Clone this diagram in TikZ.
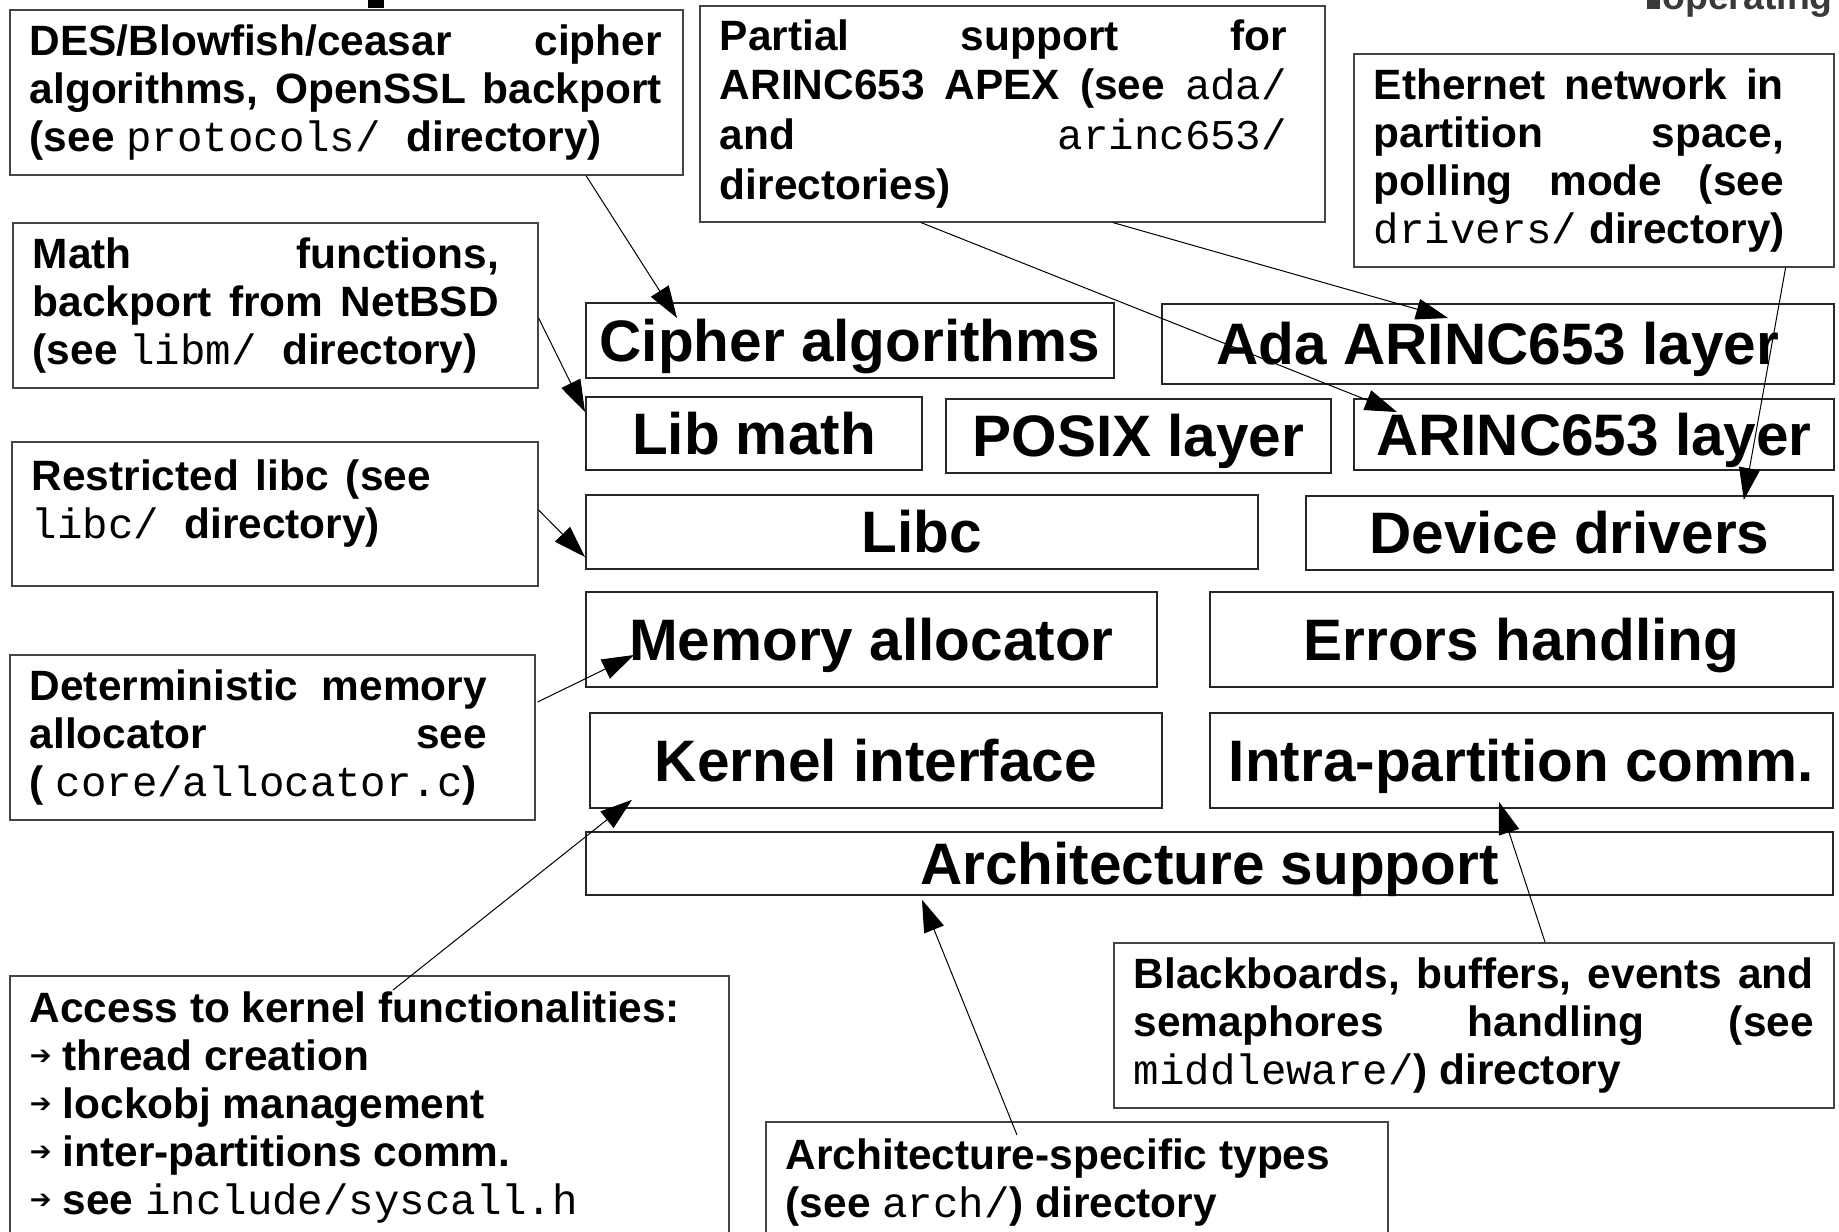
\documentclass[tikz,border=0pt]{standalone}
\usepackage{fontspec}
\setmainfont{Liberation Sans}
\setmonofont{Liberation Mono}
\newfontfamily\bulletfont{DejaVu Sans}
\usetikzlibrary{arrows.meta,calc}
\definecolor{notegrey}{HTML}{444444}
\definecolor{titlegrey}{HTML}{3A3A3A}
\newcommand{\folder}[1]{{\mdseries\ttfamily #1}}
\newcommand{\spreadline}[2]{\makebox[#1][s]{\frenchspacing\spaceskip=.278em plus 1fil\relax #2}}
\newcommand{\itemarrow}{\makebox[16.5pt][l]{\raisebox{3pt}{\bulletfont\fontsize{13}{13}\selectfont ➔}}}
\tikzset{
  layerbox/.style={
    draw=black!85,
    line width=0.9pt,
    fill=white,
    inner sep=0pt,
    anchor=north west,
    text height=20.95pt,
    text depth=0pt,
    font=\fontsize{29.25}{32}\selectfont\bfseries
  },
  notebox/.style={
    draw=notegrey,
    line width=0.8pt,
    fill=white,
    inner xsep=10pt,
    inner ysep=4pt,
    align=flush left,
    anchor=north west,
    font=\fontsize{21.2}{24}\selectfont\bfseries
  },
  pointer/.style={
    -{Triangle[length=16pt,width=10.5pt]},
    line width=0.5pt
  }
}

\begin{document}
\begin{tikzpicture}[x=0.5pt,y=-0.5pt]
\useasboundingbox (0,0) rectangle (1839,1231);
\clip (0,0) rectangle (1839,1231);
\fill[white] (0,0) rectangle (1839,1231);

% remains of the slide title
\fill (368,0) rectangle (384,8);
\fill[titlegrey] (1647,0) rectangle (1660,9);
\node[anchor=base west, inner sep=0pt, text=titlegrey, font=\fontsize{18.7}{20}\selectfont\bfseries] (title) at (1662,10) {operating};

% layers
\node[layerbox, minimum width=264pt, minimum height=37.5pt] (cipher) at (585,302) {Cipher algorithms};
\node[layerbox, minimum width=336pt, minimum height=40pt] (ada) at (1161,303) {Ada ARINC653 layer};
\node[layerbox, minimum width=168pt, minimum height=36.5pt] (libmath) at (585,396) {Lib math};
\node[layerbox, minimum width=192.5pt, minimum height=37pt] (posix) at (945,398) {POSIX layer};
\node[layerbox, minimum width=240pt, minimum height=35.5pt] (arinc) at (1353,398) {ARINC653 layer};
\node[layerbox, minimum width=336pt, minimum height=37pt] (libc) at (585,494) {Libc};
\node[layerbox, minimum width=263.5pt, minimum height=37pt] (drivers) at (1305,495) {Device drivers};
\node[layerbox, minimum width=285.5pt, minimum height=47.5pt] (memory) at (585,591) {Memory allocator};
\node[layerbox, minimum width=311.5pt, minimum height=47.5pt] (errors) at (1209,591) {Errors handling};
\node[layerbox, minimum width=286pt, minimum height=47.5pt] (kernel) at (589,712) {Kernel interface};
\node[layerbox, minimum width=311.5pt, minimum height=47.5pt] (intra) at (1209,712) {Intra-partition comm.};
\node[layerbox, minimum width=623.5pt, minimum height=31.5pt] (archsup) at (585,831) {Architecture support};

% notes
\node[notebox, minimum width=336.5pt, minimum height=82.5pt, text width=316.5pt] (des) at (9,9)
  {\spreadline{316pt}{DES/Blowfish/ceasar cipher}\\
   \spreadline{316pt}{algorithms, OpenSSL backport}\\
   (see \folder{protocols/ }directory)};
\node[notebox, minimum width=312.5pt, minimum height=108pt, text width=292.5pt,
      font=\fontsize{21.2}{24.8}\selectfont\bfseries] (partial) at (699,5)
  {\spreadline{283.5pt}{Partial support for}\\
   \spreadline{283.5pt}{ARINC653 APEX (see \folder{ada/}}\\
   \spreadline{283.5pt}{and \folder{arinc653/}}\\
   directories)};
\node[notebox, minimum width=240pt, minimum height=106.5pt, text width=220pt] (ethernet) at (1353,53)
  {\spreadline{205pt}{Ethernet network in}\\
   \spreadline{205pt}{partition space,}\\
   \spreadline{205pt}{polling mode (see}\\
   \folder{drivers/} directory)};
\node[notebox, minimum width=262.5pt, minimum height=82.5pt, text width=242.5pt] (math) at (12,222)
  {\spreadline{233pt}{Math functions,}\\
   \spreadline{233pt}{backport from NetBSD}\\
   (see \folder{libm/ }directory)};
\node[notebox, minimum width=263pt, minimum height=72pt, text width=243pt, text depth=38.5pt] (restricted) at (11,441)
  {\spreadline{199.5pt}{Restricted libc (see}\\
   \folder{libc/ }directory)};
\node[notebox, minimum width=262.5pt, minimum height=82.5pt, text width=242.5pt] (determ) at (9,654)
  {\spreadline{228.5pt}{Deterministic memory}\\
   \spreadline{228.5pt}{allocator see}\\
   ( \folder{core/allocator.c})};
\node[notebox, minimum width=359.5pt, text width=339.5pt, inner ysep=8pt, text depth=106pt] (access) at (9,975)
  {Access to kernel functionalities:\\
   \itemarrow thread creation\\
   \itemarrow lockobj management\\
   \itemarrow inter-partitions comm.\\
   \itemarrow see \folder{include/syscall.h}};
\node[notebox, minimum width=360pt, minimum height=82.5pt, text width=340pt] (blackboards) at (1113,942)
  {\spreadline{340pt}{Blackboards, buffers, events and}\\
   \spreadline{340pt}{semaphores handling (see}\\
   \folder{middleware/}) directory};
\node[notebox, minimum width=311pt, text width=291pt, inner ysep=8.5pt, text depth=39pt] (archtypes) at (765,1121)
  {Architecture-specific types\\
   (see \folder{arch/}) directory};

% pointers
\draw[pointer] ($(des.south west)+(577,0)$) -- ($(cipher.north west)+(92,16)$);
\draw[pointer] ($(math.north east)+(0,96)$) -- ($(libmath.north west)+(0,16)$);
\draw[pointer] ($(partial.south west)+(222,0)$) -- ($(arinc.north west)+(44,14)$);
\draw[pointer] ($(partial.south west)+(414,0)$) -- ($(ada.north west)+(287,15)$);
\draw[pointer] ($(ethernet.south east)+(-49,0)$) -- ($(drivers.north east)+(-90,5)$);
\draw[pointer] ($(restricted.north east)+(0,69)$) -- ($(libc.north west)+(0,63)$);
\draw[pointer] ($(determ.north east)+(2,48)$) -- ($(memory.north west)+(49,64)$);
\draw[pointer] ($(access.north west)+(384,15)$) -- ($(kernel.south west)+(43,-9)$);
\draw[pointer] ($(archtypes.north west)+(252,14)$) -- ($(archsup.south west)+(337,4)$);
\draw[pointer] ($(blackboards.north west)+(432,0)$) -- ($(intra.south west)+(290,-7)$);
\end{tikzpicture}
\end{document}
